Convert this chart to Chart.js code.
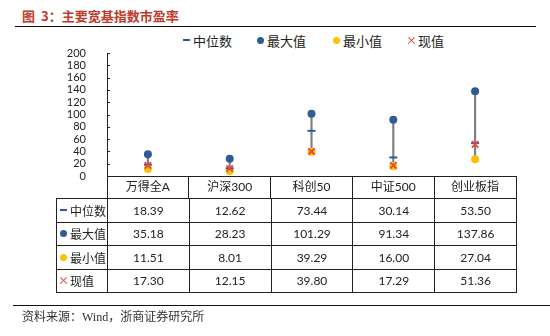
<!DOCTYPE html>
<html>
<head>
<meta charset="utf-8">
<script src="https://cdn.jsdelivr.net/npm/chart.js@4"></script>
<style>
  body { margin: 0; background: #fff; }
  #wrap { position: relative; width: 550px; height: 336px; overflow: hidden;
          font-family: Lato, "Noto Sans CJK SC", sans-serif; color: #222; }
  #pe { position: absolute; left: 0; top: 0; }
  .title { position: absolute; left: 22px; top: 6px; font: bold 13px "Noto Sans CJK SC", sans-serif;
           color: #c0392b; white-space: nowrap; }
  .title .num { margin-left: 6px; }
  .rule { position: absolute; height: 0; border-top: 1.5px solid #111; }
  .source { position: absolute; left: 22px; top: 307px; font: 12px "Liberation Serif", "Noto Sans CJK SC", serif;
            color: #333; white-space: nowrap; }
  .legend-item { position: absolute; top: 33px; font-size: 13px; white-space: nowrap;
                 font-family: "Noto Sans CJK SC", sans-serif; line-height: 16px; }
  .ic { display: inline-block; vertical-align: middle; margin-right: 3px; position: relative; top: -2px; }
  .ic-dash { width: 7px; height: 2px; }
  .ic-dot { width: 7px; height: 7px; border-radius: 50%; }
  .ic-x { width: 7px; height: 7px; }
  .ic-x::before, .ic-x::after { content: ""; position: absolute; left: -1px; top: 3px; width: 9px; height: 1.4px;
                                 background: #e8453c; transform: rotate(45deg); }
  .ic-x::after { transform: rotate(-45deg); }
  #tbl { position: absolute; border-collapse: collapse; table-layout: fixed; }
  #tbl td { border: 1px solid #222; padding: 0; font-size: 12px; text-align: center; white-space: nowrap; }
  #tbl td.name { text-align: left; padding-left: 3px; font-family: "Noto Sans CJK SC", sans-serif; font-size: 12px; }
</style>
</head>
<body>
<div id="wrap">
  <div class="title">图<span class="num">3：</span>主要宽基指数市盈率</div>
  <div class="rule" style="left:15px; top:26px; width:521px;"></div>
  <div id="legend"></div>
  <canvas id="pe" width="550" height="336"></canvas>
  <table id="tbl"></table>
  <div class="rule" style="left:13px; top:305px; width:537px;"></div>
  <div class="source">资料来源：Wind，浙商证券研究所</div>
</div>
<script>
  const categories = ['万得全A', '沪深300', '科创50', '中证500', '创业板指'];
  const medianPE = [18.39, 12.62, 73.44, 30.14, 53.50];
  const maxPE = [35.18, 28.23, 101.29, 91.34, 137.86];
  const minPE = [11.51, 8.01, 39.29, 16.00, 27.04];
  const currentPE = [17.30, 12.15, 39.80, 17.29, 51.36];
  const yMin = 0;
  const yMax = 200;
  const yStep = 20;

  const BLUE = '#2f5b97';
  const YELLOW = '#ffc000';
  const RED = '#e8453c';
  const GRAY = '#7f7f7f';

  // rows shown in the legend and in the table under the axis
  const series = [
    { name: '中位数', values: medianPE, icon: 'dash', color: BLUE },
    { name: '最大值', values: maxPE, icon: 'dot', color: BLUE },
    { name: '最小值', values: minPE, icon: 'dot', color: YELLOW },
    { name: '现值', values: currentPE, icon: 'x', color: RED },
  ];

  function iconHtml(s) {
    if (s.icon === 'x') return '<span class="ic ic-x"></span>';
    return `<span class="ic ic-${s.icon}" style="background:${s.color}"></span>`;
  }

  const legendLeft = [183, 257, 333, 408];
  const legend = document.getElementById('legend');
  series.forEach((s, i) => {
    const item = document.createElement('div');
    item.className = 'legend-item';
    item.style.left = legendLeft[i] + 'px';
    item.innerHTML = iconHtml(s) + s.name;
    legend.appendChild(item);
  });

  // small tick marks on the inner side of the value axis
  const innerTicks = {
    id: 'innerTicks',
    afterDraw(chart) {
      const { ctx, scales: { y } } = chart;
      ctx.save();
      ctx.strokeStyle = '#222';
      ctx.lineWidth = 1;
      y.ticks.forEach((t) => {
        const py = Math.round(y.getPixelForValue(t.value)) + 0.5;
        ctx.beginPath();
        ctx.moveTo(y.right, py);
        ctx.lineTo(y.right + 3, py);
        ctx.stroke();
      });
      ctx.restore();
    },
  };

  const ctx = document.getElementById('pe').getContext('2d');
  const chart = new Chart(ctx, {
    type: 'bar',
    data: {
      labels: categories,
      datasets: [
        {
          type: 'line', label: '现值', data: currentPE, showLine: false, order: 1,
          pointStyle: 'crossRot', pointRadius: 4.5, pointBorderWidth: 1.8,
          borderColor: RED, backgroundColor: RED,
        },
        {
          type: 'line', label: '中位数', data: medianPE, showLine: false, order: 2,
          pointStyle: 'line', pointRadius: 4, pointBorderWidth: 2,
          borderColor: BLUE, backgroundColor: BLUE,
        },
        {
          type: 'line', label: '最小值', data: minPE, showLine: false, order: 3,
          pointStyle: 'circle', pointRadius: 4, pointBorderWidth: 0,
          borderColor: YELLOW, backgroundColor: YELLOW,
        },
        {
          type: 'line', label: '最大值', data: maxPE, showLine: false, order: 4,
          pointStyle: 'circle', pointRadius: 4, pointBorderWidth: 0,
          borderColor: BLUE, backgroundColor: BLUE,
        },
        {
          label: '区间', data: categories.map((c, i) => [minPE[i], maxPE[i]]), order: 5,
          backgroundColor: GRAY, barThickness: 1.5,
        },
      ],
    },
    options: {
      responsive: false,
      animation: false,
      devicePixelRatio: 1,
      layout: { padding: { left: 60, right: 34, top: 53, bottom: 138 } },
      plugins: { legend: { display: false }, tooltip: { enabled: false } },
      scales: {
        x: {
          offset: true,
          grid: { offset: true, drawOnChartArea: false, tickLength: 22, color: '#222' },
          border: { color: '#222', width: 1 },
          ticks: { padding: -18, color: '#222', font: { family: 'Lato, "Noto Sans CJK SC"', size: 12 } },
          afterFit: (s) => { s.height = 22; },
        },
        y: {
          min: yMin,
          max: yMax,
          grid: { display: false },
          border: { display: true, color: '#222', width: 1 },
          ticks: { stepSize: yStep, autoSkip: false, padding: 13, color: '#222', font: { family: 'Lato', size: 11 } },
          afterFit: (s) => { s.width = 47; },
        },
      },
    },
    plugins: [innerTicks],
  });

  // data table lined up with the category columns
  const area = chart.chartArea;
  const tableLeft = 56;
  const colW = (area.right - area.left) / categories.length;
  const tbl = document.getElementById('tbl');
  tbl.style.left = tableLeft + 'px';
  tbl.style.top = (area.bottom + 22) + 'px';
  const colgroup = document.createElement('colgroup');
  colgroup.innerHTML = `<col style="width:${area.left - tableLeft}px">` +
    categories.map(() => `<col style="width:${colW}px">`).join('');
  tbl.appendChild(colgroup);
  series.forEach((s) => {
    const tr = document.createElement('tr');
    tr.style.height = '23.5px';
    tr.innerHTML = `<td class="name">${iconHtml(s)}${s.name}</td>` +
      s.values.map((v) => `<td>${v.toFixed(2)}</td>`).join('');
    tbl.appendChild(tr);
  });
</script>
</body>
</html>
